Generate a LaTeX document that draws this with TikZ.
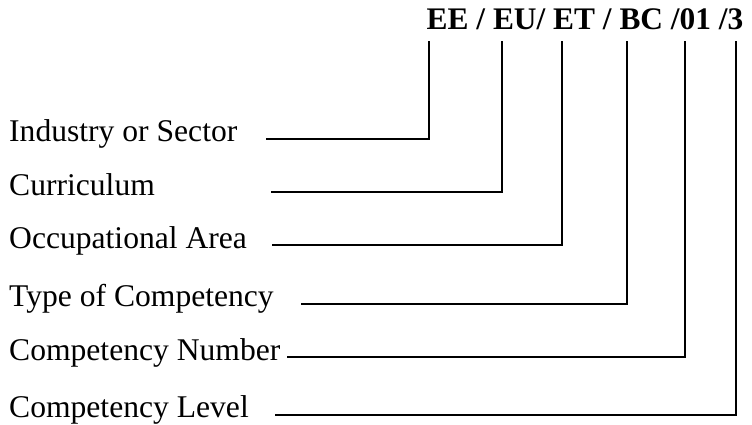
\documentclass[tikz,border=0pt]{standalone}
\usepackage{fontspec}
\setmainfont{Liberation Serif}
\begin{document}
\begin{tikzpicture}[x=1pt,y=-1pt,
  lbl/.style={anchor=base west,inner sep=0pt,font=\fontsize{31.6}{38}\selectfont},
  code/.style={anchor=base west,inner sep=0pt,font=\fontsize{31.4}{38}\selectfont\bfseries},
  conn/.style={draw=black,line width=2pt}]
\useasboundingbox (0,0) rectangle (752,425);
\node[code] (title) at (426.5,30) {EE / EU/ ET / BC /01 /3};
% label nodes
\node[lbl] (l1) at (9,142) {Industry or Sector};
\node[lbl] (l2) at (9,195) {Curriculum};
\node[lbl] (l3) at (9,248) {Occupational Area};
\node[lbl] (l4) at (9,306) {Type of Competency};
\node[lbl] (l5) at (9,360) {Competency Number};
\node[lbl] (l6) at (9,417) {Competency Level};
% tops of the vertical lines
\coordinate (t1) at (428.5,41.5);
\coordinate (t2) at (501.5,41.5);
\coordinate (t3) at (561.5,41.5);
\coordinate (t4) at (627,41.5);
\coordinate (t5) at (684.5,41.5);
\coordinate (t6) at (735.5,41.5);
% start points of the horizontal lines
\coordinate (s1) at (266,139);
\coordinate (s2) at (271,192);
\coordinate (s3) at (272,245);
\coordinate (s4) at (301,304);
\coordinate (s5) at (287,357);
\coordinate (s6) at (275,415);
\foreach \i in {1,...,6}{\draw[conn] (s\i) -| (t\i);}
\end{tikzpicture}
\end{document}
